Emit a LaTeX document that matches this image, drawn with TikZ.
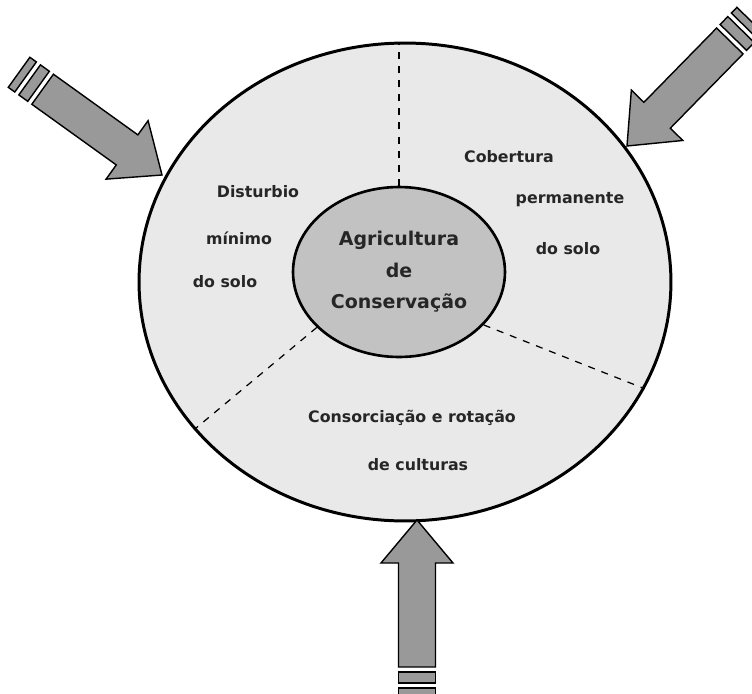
\documentclass[tikz,border=0pt]{standalone}
\usepackage{fontspec}
\setmainfont{DejaVu Sans}
\usepackage{tikz}
\usetikzlibrary{shapes.geometric}
\definecolor{cRing}{HTML}{E9E9E9}
\definecolor{cHub}{HTML}{C2C2C2}
\definecolor{cArrow}{HTML}{999999}

\begin{document}
\begin{tikzpicture}[x=0.02cm, y=-0.02cm,
  ring/.style={ellipse, draw=black, line width=1.7pt, fill=cRing, inner sep=0pt,
               minimum width=10.64cm, minimum height=9.56cm},
  hub/.style={ellipse, draw=black, line width=1.5pt, fill=cHub, inner sep=0pt, align=center,
              minimum width=4.24cm, minimum height=3.4cm,
              font=\fontsize{10.8}{18}\selectfont\bfseries, text=black!85},
  lbl/.style={font=\fontsize{9}{10}\selectfont\bfseries, text=black!85, inner sep=1pt},
  sep/.style={dashed, line width=0.7pt, dash pattern=on 4pt off 4pt},
  arrowfill/.style={draw=black, line width=0.8pt, fill=cArrow, line join=miter},
  bigarrow/.pic={
    \draw[arrowfill] (0,0) -- (-43,36) -- (-43,18.5) -- (-147,18.5) -- (-147,-18.5)
                     -- (-43,-18.5) -- (-43,-36) -- cycle;
    \draw[arrowfill] (-152,18.5) rectangle (-163,-18.5);
    \draw[arrowfill] (-168,18.5) rectangle (-176,-18.5);
  }]
  \useasboundingbox (0,0) rectangle (752,694);

  % the two ellipses
  \node[ring] (ring) at (405,282) {};
  \node[hub] (hub) at (399,272) {Agricultura\\de\\Conservação};

  % dashed separators
  \draw[sep] (hub.north) -- (hub.north |- ring.north);
  \draw[sep] (hub.214) -- (ring.215);
  \draw[sep] (hub.328) -- (ring.336);

  % principle 1
  \node[lbl] (d1) at (258,192) {Disturbio};
  \node[lbl] (d2) at (239,238) {mínimo};
  \node[lbl] (d3) at (225,282) {do solo};

  % principle 2
  \node[lbl] (c1) at (509,157) {Cobertura};
  \node[lbl] (c2) at (570,200) {permanente};
  \node[lbl] (c3) at (568,249) {do solo};

  % principle 3
  \node[lbl] (r1) at (412,418) {Consorciação e rotação};
  \node[lbl] (r2) at (418,465) {de culturas};

  % incoming arrows
  \pic[rotate=-35.7] at (162,175) {bigarrow};
  \pic[rotate=225.6] at (627,146) {bigarrow};
  \pic[rotate=90] at (417,520) {bigarrow};
\end{tikzpicture}
\end{document}
